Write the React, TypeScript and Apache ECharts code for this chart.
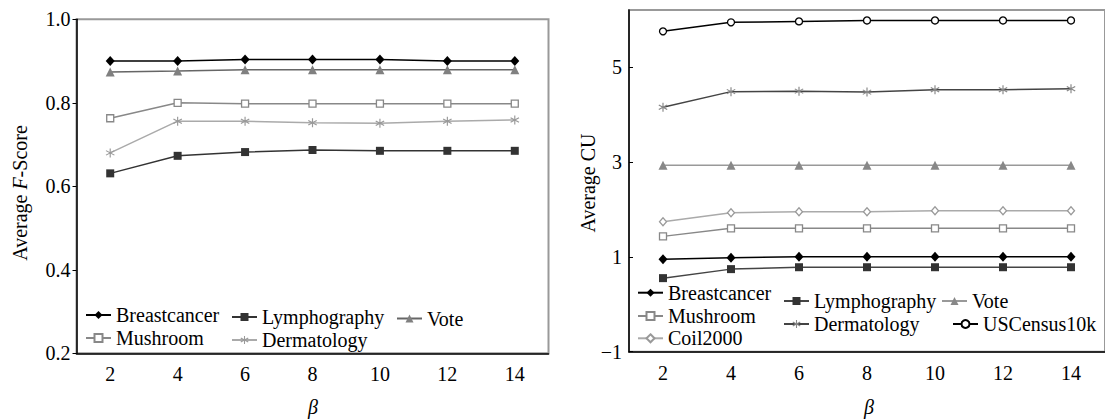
import React, { useEffect, useRef } from 'react';
import * as echarts from 'echarts';

const betas = ['2', '4', '6', '8', '10', '12', '14'];

// Left chart: Average F-Score
const fAxis = { min: 0.2, max: 1.0, interval: 0.2 };
const fBreastcancer = [0.9, 0.9, 0.904, 0.904, 0.904, 0.9, 0.9];
const fLymphography = [0.631, 0.673, 0.682, 0.687, 0.685, 0.685, 0.685];
const fVote = [0.874, 0.876, 0.879, 0.879, 0.879, 0.879, 0.879];
const fMushroom = [0.763, 0.8, 0.798, 0.798, 0.798, 0.798, 0.798];
const fDermatology = [0.68, 0.756, 0.756, 0.752, 0.751, 0.756, 0.759];

// Right chart: Average CU
const cuAxis = { min: -1, max: 6.2, interval: 2 };
const cuBreastcancer = [0.95, 0.98, 1.0, 1.0, 1.0, 1.0, 1.0];
const cuLymphography = [0.55, 0.74, 0.78, 0.78, 0.78, 0.78, 0.78];
const cuVote = [2.93, 2.93, 2.93, 2.93, 2.93, 2.93, 2.93];
const cuMushroom = [1.43, 1.6, 1.6, 1.6, 1.6, 1.6, 1.6];
const cuDermatology = [4.15, 4.48, 4.49, 4.47, 4.52, 4.52, 4.54];
const cuCoil2000 = [1.74, 1.93, 1.95, 1.95, 1.97, 1.97, 1.97];
const cuUSCensus10k = [5.75, 5.94, 5.96, 5.98, 5.98, 5.98, 5.98];

const FONT = 'Liberation Serif';
const ASTERISK =
  'path://M4.4 10 L5.6 10 L5.6 0 L4.4 0 Z M9.03 8.02 L9.63 6.98 L0.97 1.98 L0.37 3.02 Z M0.37 6.98 L0.97 8.02 L9.63 3.02 L9.03 1.98 Z';

function mkSeries(
  name: string,
  data: number[],
  grid: number,
  symbol: string,
  symbolSize: number | number[],
  lineColor: string,
  fill: string,
  border?: string
) {
  return {
    type: 'line',
    name,
    data,
    xAxisIndex: grid,
    yAxisIndex: grid,
    symbol,
    symbolSize,
    showSymbol: true,
    lineStyle: { color: lineColor, width: 1.5 },
    itemStyle: border
      ? { color: fill, borderColor: border, borderWidth: 1.3 }
      : { color: fill, borderWidth: 0 },
    z: 3,
  };
}

export default function App() {
  const ref = useRef<HTMLDivElement>(null);
  useEffect(() => {
    if (!ref.current) return;
    const chart = echarts.init(ref.current, null, { renderer: 'svg' });

    const axisLabel = { fontFamily: FONT, fontSize: 20, color: '#000' };
    const xAxisCommon = {
      type: 'category',
      data: betas,
      boundaryGap: true,
      axisLine: { onZero: false, lineStyle: { color: '#000', width: 1.5 } },
      axisTick: { inside: true, length: 4, lineStyle: { color: '#000' } },
      axisLabel: { ...axisLabel, margin: 11 },
      splitLine: { show: false },
    };

    const legendDefs = [
      { name: 'Breastcancer', left: 85, top: 305 },
      { name: 'Lymphography', left: 231, top: 307 },
      { name: 'Vote', left: 396, top: 308.5 },
      { name: 'Mushroom', left: 85, top: 328 },
      { name: 'Dermatology', left: 231, top: 330 },
      { name: 'Breastcancer#R', left: 637, top: 282.7 },
      { name: 'Mushroom#R', left: 637, top: 306 },
      { name: 'Coil2000#R', left: 637, top: 328.3 },
      { name: 'Lymphography#R', left: 783, top: 291 },
      { name: 'Dermatology#R', left: 783, top: 314 },
      { name: 'Vote#R', left: 941, top: 291 },
      { name: 'USCensus10k#R', left: 952, top: 314 },
    ];

    chart.setOption({
      animation: false,
      backgroundColor: '#fff',
      textStyle: { fontFamily: FONT },
      grid: [
        { left: 76.5, top: 19.3, width: 472, height: 334, show: true, borderColor: '#999', borderWidth: 2 },
        { left: 629, top: 10, width: 482, height: 341.7, show: true, borderColor: '#999', borderWidth: 2 },
      ],
      xAxis: [
        { ...xAxisCommon, gridIndex: 0 },
        { ...xAxisCommon, gridIndex: 1 },
      ],
      yAxis: [
        {
          type: 'value',
          gridIndex: 0,
          min: fAxis.min,
          max: fAxis.max,
          interval: fAxis.interval,
          axisLine: { show: true, onZero: false, lineStyle: { color: '#000', width: 1.5 } },
          axisTick: { show: true, inside: false, length: 4, lineStyle: { color: '#000' } },
          axisLabel: { ...axisLabel, margin: 6, formatter: (v: number) => v.toFixed(1) },
          splitLine: { show: false },
        },
        {
          type: 'value',
          gridIndex: 1,
          min: cuAxis.min,
          max: cuAxis.max,
          interval: cuAxis.interval,
          axisLine: { show: true, onZero: false, lineStyle: { color: '#000', width: 1.5 } },
          axisTick: { show: true, inside: true, length: 4, lineStyle: { color: '#000' } },
          axisLabel: {
            ...axisLabel,
            margin: 7,
            showMaxLabel: false,
            formatter: (v: number) => (v < 0 ? '\u2212' + Math.abs(v) : String(v)),
          },
          splitLine: { show: false },
        },
      ],
      legend: legendDefs.map((d) => ({
        data: [d.name],
        left: d.left,
        top: d.top,
        padding: 0,
        itemWidth: 25,
        itemHeight: 10,
        formatter: (n: string) => n.split('#')[0],
        textStyle: { fontFamily: FONT, fontSize: 20, color: '#000' },
      })),
      series: [
        mkSeries('Breastcancer', fBreastcancer, 0, 'diamond', [9, 10], '#000', '#000'),
        mkSeries('Lymphography', fLymphography, 0, 'rect', 8, '#333', '#333'),
        mkSeries('Vote', fVote, 0, 'triangle', 9, '#666', '#808080'),
        mkSeries('Mushroom', fMushroom, 0, 'rect', 7, '#888', '#fff', '#888'),
        mkSeries('Dermatology', fDermatology, 0, ASTERISK, 9, '#aaa', '#999'),
        mkSeries('Breastcancer#R', cuBreastcancer, 1, 'diamond', [9, 10], '#000', '#000'),
        mkSeries('Lymphography#R', cuLymphography, 1, 'rect', 8, '#444', '#333'),
        mkSeries('Vote#R', cuVote, 1, 'triangle', 9, '#999', '#888'),
        mkSeries('Mushroom#R', cuMushroom, 1, 'rect', 7, '#888', '#fff', '#888'),
        mkSeries('Dermatology#R', cuDermatology, 1, ASTERISK, 9, '#444', '#888'),
        mkSeries('Coil2000#R', cuCoil2000, 1, 'diamond', [7, 8], '#aaa', '#fff', '#999'),
        mkSeries('USCensus10k#R', cuUSCensus10k, 1, 'circle', 7, '#000', '#fff', '#000'),
      ],
      graphic: [
        {
          type: 'text',
          x: 20,
          y: 193,
          rotation: Math.PI / 2,
          style: {
            text: 'Average {i|F}-Score',
            fontFamily: FONT,
            fontSize: 20,
            fill: '#000',
            align: 'center',
            verticalAlign: 'middle',
            rich: { i: { fontStyle: 'italic', fontFamily: FONT, fontSize: 20, fill: '#000' } },
          },
        },
        {
          type: 'text',
          x: 588,
          y: 183,
          rotation: Math.PI / 2,
          style: {
            text: 'Average CU',
            fontFamily: FONT,
            fontSize: 20,
            fill: '#000',
            align: 'center',
            verticalAlign: 'middle',
          },
        },
        {
          type: 'text',
          x: 313,
          y: 407,
          style: {
            text: '\u03b2',
            fontFamily: FONT,
            fontSize: 20,
            fontStyle: 'italic',
            fill: '#000',
            align: 'center',
            verticalAlign: 'middle',
          },
        },
        {
          type: 'text',
          x: 869,
          y: 407,
          style: {
            text: '\u03b2',
            fontFamily: FONT,
            fontSize: 20,
            fontStyle: 'italic',
            fill: '#000',
            align: 'center',
            verticalAlign: 'middle',
          },
        },
      ],
    });
    return () => chart.dispose();
  }, []);
  return (
    <div
      ref={ref}
      style={{ position: 'fixed', left: 0, top: 0, width: 1105, height: 420, background: '#fff' }}
    />
  );
}
